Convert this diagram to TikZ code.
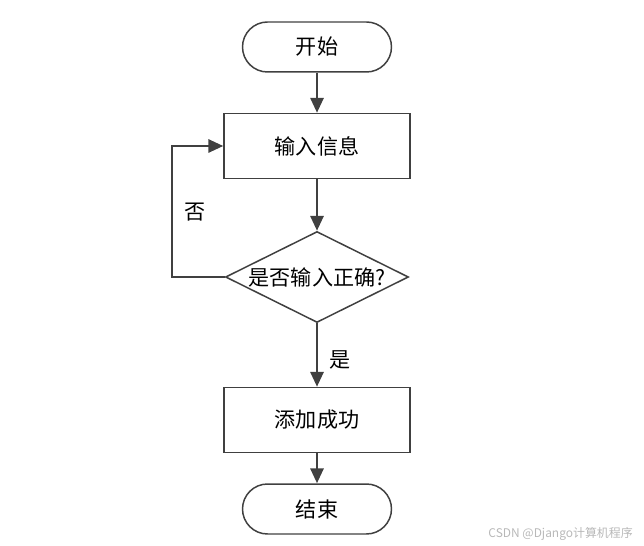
\documentclass[tikz,border=0pt]{standalone}
\usepackage{fontspec}
\usepackage{tikz}
\usetikzlibrary{shapes.geometric,arrows.meta}
\newfontfamily\cjk{Noto Sans CJK SC}
\definecolor{line_gray}{HTML}{404040}
\definecolor{mark_gray}{HTML}{B8B8B8}

\tikzset{
    terminal/.style={draw=line_gray, line width=0.85pt, rounded corners=0.5cm,
        minimum width=2.98cm, minimum height=1cm, inner sep=0pt},
    process/.style={draw=line_gray, line width=0.85pt,
        minimum width=3.72cm, minimum height=1.3cm, inner sep=0pt},
    decision/.style={draw=line_gray, line width=0.85pt, diamond, aspect=2,
        minimum width=3.66cm, minimum height=1.82cm, inner sep=0pt},
    flow/.style={->, line_gray, line width=1.4pt},
}

\begin{document}
\begin{tikzpicture}[x=0.02cm, y=-0.02cm, >={Triangle[length=8.5pt,width=7.5pt]},
    font=\cjk\fontsize{12}{14}\selectfont]

    \useasboundingbox (0,0) rectangle (644,546);

    % Les étapes du flux
    \node[terminal] (debut) at (317,47) {开始};
    \node[process] (saisie) at (317,146) {输入信息};
    \node[decision] (test) at (317,277) {是否输入正确?};
    \node[process] (ajout) at (317,420) {添加成功};
    \node[terminal] (fin) at (317,509) {结束};

    % Coin de la boucle de retour
    \coordinate (retourB) at (172,277);
    \coordinate (retourH) at (172,146);

    % Les flèches
    \draw[flow] (debut) -- (saisie);
    \draw[flow] (saisie) -- (test);
    \draw[flow] (test) -- (ajout);
    \draw[flow] (ajout) -- (fin);
    \draw[flow] (test.west) -- (retourB) -- (retourH) -- (saisie.west);
    \node[text=black] (oui) at (340,360) {是};
    \node[text=black] (non) at (195,212) {否};

    % Filigrane
    \node[anchor=east, text=mark_gray, font=\cjk\fontsize{6.8}{8}\selectfont] (marque) at (639,534) {CSDN @Django计算机程序};
\end{tikzpicture}
\end{document}
